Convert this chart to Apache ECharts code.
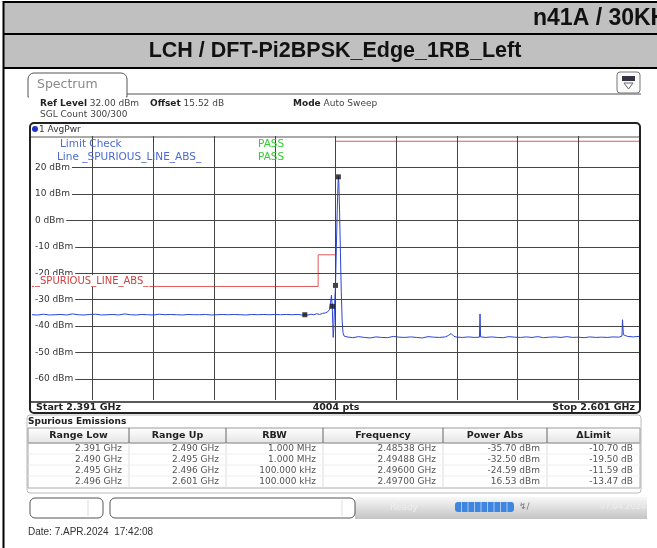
<!DOCTYPE html>
<html>
<head>
<meta charset="utf-8">
<script src="https://cdn.jsdelivr.net/npm/echarts@6/dist/echarts.min.js"></script>
<style>html,body{margin:0;padding:0;background:#fff;}#c{width:657px;height:548px;}</style>
</head>
<body>
<div id="c"></div>
<script>
// ---- data ----
const headerRight = 'n41A / 30KHz';
const headerTitle = 'LCH / DFT-Pi2BPSK_Edge_1RB_Left';
const xGridFreqMHz = [2412, 2433, 2454, 2475, 2496, 2517, 2538, 2559, 2580];
const yTickDbm = [20, 10, 0, -10, -20, -30, -40, -50, -60];
const limitFreqMHz = [2391, 2490, 2490, 2496, 2496, 2601];
const limitDbm = [-25, -25, -13, -13, 30, 30];
const markerFreqMHz = [2485.38, 2494.88, 2496.00, 2497.00];
const markerDbm = [-35.70, -32.50, -24.59, 16.53];
const traceFreqMHz = [
  2391,2393,2395,2397,2399,2401,2403,2405,2407,2409,2411,2413,2415,2417,2419,2421,2423,2425,2427,2429,
  2431,2433,2435,2437,2439,2441,2443,2445,2447,2449,2451,2453,2455,2457,2459,2461,2463,2465,2467,2469,
  2471,2473,2475,2477,2479,2481,2483,2484.5,2485.38,2486.5,2487.5,2488.5,2489.5,2490.5,2491.5,2492.5,
  2493.3,2493.9,2494.3,2494.6,2494.88,2495.05,2495.2,2495.4,2495.7,2496.0,2496.3,2496.6,2496.85,2497.0,
  2497.15,2497.4,2497.7,2498.0,2498.3,2498.6,2499.0,
  2500,2502,2504,2506,2508,2510,2512,2514,2516,2518,2520,2522,2524,2526,2528,2530,2532,2534,2535,2536,
  2537,2538,2540,2542,2544,2545.8,2546.0,2546.2,2548,2550,2552,2554,2556,2558,2560,2562,2564,2566,2568,
  2570,2572,2574,2576,2578,2580,2582,2584,2586,2588,2590,2592,2594,2595.1,2595.3,2595.6,2597,2599,2601
];
const traceDbm = [
  -35.7,-35.8,-35.5,-35.8,-35.7,-35.6,-35.8,-35.4,-35.7,-35.8,-35.6,-35.5,-35.8,-35.7,-35.6,-35.8,-35.4,-35.7,-35.8,-35.6,
  -35.7,-35.8,-35.5,-35.7,-35.6,-35.7,-35.8,-35.6,-35.7,-35.7,-35.6,-35.8,-35.7,-35.6,-35.7,-35.6,-35.7,-35.8,-35.6,-35.7,
  -35.6,-35.7,-35.6,-35.7,-35.6,-35.7,-35.6,-35.8,-35.7,-35.8,-35.5,-35.7,-35.3,-35.6,-35.2,-35.0,
  -34.6,-33.8,-31.0,-28.3,-32.5,-39.0,-44.3,-41.0,-31.5,-24.59,-10.0,4.0,13.0,16.53,
  14.5,4.0,-12.0,-27.0,-38.0,-42.5,-43.8,
  -44.1,-44.4,-44.0,-44.3,-44.5,-44.1,-44.3,-44.4,-43.9,-44.2,-44.3,-44.1,-44.3,-44.5,-44.0,-44.2,-44.3,-44.1,-43.6,-42.8,
  -43.9,-44.2,-44.3,-44.1,-44.3,-44.2,-35.4,-44.1,-44.3,-44.1,-44.3,-44.4,-44.0,-44.2,-44.3,-44.1,-44.3,-44.0,-44.4,
  -44.2,-44.1,-44.3,-44.0,-44.3,-44.2,-44.4,-44.1,-44.3,-44.2,-44.3,-44.1,-44.2,-43.8,-37.6,-43.3,-43.9,-44.1,-43.9
];
const tableHead = ['Range Low', 'Range Up', 'RBW', 'Frequency', 'Power Abs', '\u0394Limit'];
const rangeLow = ['2.391 GHz', '2.490 GHz', '2.495 GHz', '2.496 GHz'];
const rangeUp = ['2.490 GHz', '2.495 GHz', '2.496 GHz', '2.601 GHz'];
const rbw = ['1.000 MHz', '1.000 MHz', '100.000 kHz', '100.000 kHz'];
const peakFreq = ['2.48538 GHz', '2.49488 GHz', '2.49600 GHz', '2.49700 GHz'];
const powerAbs = ['-35.70 dBm', '-32.50 dBm', '-24.59 dBm', '16.53 dBm'];
const deltaLimit = ['-10.70 dB', '-19.50 dB', '-11.59 dB', '-13.47 dB'];

// ---- chart ----
const FF = 'DejaVu Sans';
const chart = echarts.init(document.getElementById('c'), null, {renderer: 'canvas'});
const g = [];
function txt(x, y, s, o) {
  g.push(Object.assign({type: 'text', x: x, y: y, z: 20, style: Object.assign({text: s, fontFamily: FF, fontSize: 9, fill: '#222', textVerticalAlign: 'middle'}, o || {})}));
}
function ln(x1, y1, x2, y2, c, w, z) {
  g.push({type: 'line', z: z || 20, shape: {x1: x1, y1: y1, x2: x2, y2: y2}, style: {stroke: c, lineWidth: w}});
}
// header bands
g.push({type: 'rect', z: 1, shape: {x: 4, y: 2, width: 653, height: 32}, style: {fill: '#c0c0c0'}});
g.push({type: 'rect', z: 1, shape: {x: 4, y: 35, width: 653, height: 33}, style: {fill: '#c0c0c0'}});
ln(3, 2, 657, 2, '#000', 2);
ln(3, 34, 657, 34, '#000', 2);
ln(3, 68, 657, 68, '#000', 2);
ln(3.5, 1, 3.5, 548, '#000', 2);
txt(533, 19, headerRight, {fontFamily: 'Liberation Sans', fontWeight: 'bold', fontSize: 23, fill: '#111'});
txt(335, 51, headerTitle, {fontFamily: 'Liberation Sans', fontWeight: 'bold', fontSize: 21.5, fill: '#111', textAlign: 'center'});
// spectrum tab
g.push({type: 'rect', z: 5, shape: {x: 28, y: 73, width: 99, height: 24, r: [6, 6, 0, 0]}, style: {fill: '#fff', stroke: '#555', lineWidth: 1}});
g.push({type: 'rect', z: 6, shape: {x: 29, y: 93, width: 97, height: 6}, style: {fill: '#fff'}});
ln(127, 94, 641, 94, '#555', 1, 6);
txt(37, 85, 'Spectrum', {fontSize: 12.5, fill: '#888'});
g.push({type: 'rect', z: 6, shape: {x: 617, y: 72, width: 23, height: 21, r: 3}, style: {fill: '#fafafa', stroke: '#777', lineWidth: 1}});
g.push({type: 'rect', z: 7, shape: {x: 622, y: 76, width: 13, height: 5}, style: {fill: '#334', stroke: null}});
g.push({type: 'polygon', z: 7, shape: {points: [[624, 83], [633, 83], [628.5, 89]]}, style: {fill: 'none', stroke: '#666', lineWidth: 1}});
// info lines
const rb = {b: {fontWeight: 'bold', fontFamily: FF, fontSize: 9, fill: '#222'}};
txt(40, 103.5, '{b|Ref Level} 32.00 dBm', {rich: rb, fill: '#444'});
txt(150, 103.5, '{b|Offset} 15.52 dB', {rich: rb, fill: '#444'});
txt(293, 103.5, '{b|Mode} Auto Sweep', {rich: rb, fill: '#444'});
txt(40, 115, 'SGL Count 300/300', {fill: '#444'});
// graph box
g.push({type: 'rect', z: 2, shape: {x: 30, y: 123, width: 610, height: 290, r: 4}, style: {fill: 'none', stroke: '#222', lineWidth: 2}});
ln(31, 137, 639, 137, '#555', 1, 3);
ln(31, 402, 639, 402, '#222', 1.5, 3);
g.push({type: 'circle', z: 20, shape: {cx: 35, cy: 129, r: 3}, style: {fill: '#2233cc'}});
txt(39, 129.5, '1 AvgPwr', {fill: '#333'});
txt(60, 144, 'Limit Check', {fill: '#4a6bd0', fontSize: 10.5});
txt(258, 144, 'PASS', {fill: '#33cc33', fontSize: 10.5});
txt(57, 157, 'Line _SPURIOUS_LINE_ABS_', {fill: '#4a6bd0', fontSize: 10.5});
txt(258, 157, 'PASS', {fill: '#33cc33', fontSize: 10.5});
txt(34, 281, '_SPURIOUS_LINE_ABS_', {fill: '#d04040', fontSize: 10, backgroundColor: '#fff', padding: [1, 1]});
txt(36, 407.5, 'Start 2.391 GHz', {fontWeight: 'bold', fontSize: 9.5});
txt(336, 407.5, '4004 pts', {fontWeight: 'bold', fontSize: 9.5, textAlign: 'center'});
txt(635, 407.5, 'Stop 2.601 GHz', {fontWeight: 'bold', fontSize: 9.5, textAlign: 'right'});
// table
txt(28, 422, 'Spurious Emissions', {fontWeight: 'bold'});
const sep = [28, 129, 226, 323, 443, 547, 640];
g.push({type: 'rect', z: 2, shape: {x: 27, y: 415, width: 614, height: 78, r: 3}, style: {fill: 'none', stroke: '#bbb', lineWidth: 1}});
g.push({type: 'rect', z: 3, shape: {x: 28, y: 428, width: 612, height: 15}, style: {fill: new echarts.graphic.LinearGradient(0, 0, 0, 1, [{offset: 0, color: '#ffffff'}, {offset: 1, color: '#e4e4e4'}]), stroke: '#999', lineWidth: 1}});
g.push({type: 'rect', z: 3, shape: {x: 28, y: 443, width: 612, height: 45}, style: {fill: 'none', stroke: '#aaa', lineWidth: 1}});
for (let i = 1; i < sep.length - 1; i++) { ln(sep[i], 428, sep[i], 443, '#666', 1, 4); ln(sep[i], 443, sep[i], 488, '#ddd', 1, 4); }
for (let r = 1; r < 4; r++) ln(28, 443 + r * 11, 640, 443 + r * 11, '#eee', 1, 4);
const cols = [rangeLow, rangeUp, rbw, peakFreq, powerAbs, deltaLimit];
for (let c = 0; c < 6; c++) {
  txt((sep[c] + sep[c + 1]) / 2, 436, tableHead[c], {fontWeight: 'bold', fontSize: 9.5, textAlign: 'center', fill: '#222'});
  for (let r = 0; r < 4; r++) txt(sep[c + 1] - 7, 448.5 + r * 11, cols[c][r], {textAlign: 'right', fill: '#555'});
}
// status bar
g.push({type: 'rect', z: 2, shape: {x: 355, y: 497, width: 292, height: 22}, style: {fill: new echarts.graphic.LinearGradient(0, 0, 0, 1, [{offset: 0, color: '#f8f8f8'}, {offset: 1, color: '#c4c4c4'}])}});
g.push({type: 'rect', z: 3, shape: {x: 30, y: 498, width: 73, height: 20, r: 5}, style: {fill: '#fff', stroke: '#555', lineWidth: 1}});
g.push({type: 'rect', z: 3, shape: {x: 110, y: 498, width: 245, height: 20, r: 5}, style: {fill: '#fff', stroke: '#555', lineWidth: 1}});
ln(88, 500, 88, 516, '#ddd', 1, 4);
ln(342, 500, 342, 516, '#ddd', 1, 4);
txt(390, 508, 'Ready', {fill: '#eee'});
g.push({type: 'rect', z: 3, shape: {x: 455, y: 502, width: 59, height: 10, r: 3}, style: {fill: '#3f86e0'}});
for (let i = 1; i < 9; i++) ln(455 + i * 6.5, 502, 455 + i * 6.5, 512, '#a9c8f0', 1, 4);
txt(519, 507, '\u21af\u2215', {fill: '#777', fontSize: 9});
txt(600, 507, '07.04.2024', {fill: '#eee', fontSize: 8});
txt(28, 532, 'Date: 7.APR.2024  17:42:08', {fontFamily: 'Liberation Sans', fontSize: 10, fill: '#333'});

const pairs = (xs, ys) => xs.map((x, i) => [x, ys[i]]);
const option = {
  animation: false,
  backgroundColor: '#fff',
  grid: {left: 32, right: 18, top: 136, bottom: 148, containLabel: false},
  xAxis: {type: 'value', min: 2391, max: 2601, axisLine: {show: false}, axisTick: {show: false}, axisLabel: {show: false}, splitLine: {show: false}},
  yAxis: {type: 'value', min: -68, max: 32, z: 5, axisLine: {show: false}, axisTick: {show: false}, splitLine: {show: false},
    axisLabel: {inside: true, customValues: yTickDbm, formatter: v => v + ' dBm', color: '#333', fontFamily: FF, fontSize: 9, backgroundColor: '#fff', padding: [0, 2, 0, 3], margin: 0}},
  series: [
    {type: 'line', z: 1, silent: true, data: [], markLine: {silent: true, symbol: 'none', animation: false, label: {show: false},
      lineStyle: {color: '#444', width: 1, type: 'solid'},
      data: xGridFreqMHz.map(v => ({xAxis: v})).concat(yTickDbm.map(v => ({yAxis: v})))}},
    {type: 'line', z: 2, silent: true, showSymbol: false, data: pairs(limitFreqMHz, limitDbm), lineStyle: {color: '#e05a5a', width: 1}},
    {type: 'line', z: 3, silent: true, showSymbol: false, data: pairs(traceFreqMHz, traceDbm), lineStyle: {color: '#2a45d8', width: 1}},
    {type: 'scatter', z: 4, silent: true, symbol: 'rect', symbolSize: 5, data: pairs(markerFreqMHz, markerDbm), itemStyle: {color: '#111'}}
  ],
  graphic: {elements: g}
};
chart.setOption(option);
</script>
</body>
</html>
